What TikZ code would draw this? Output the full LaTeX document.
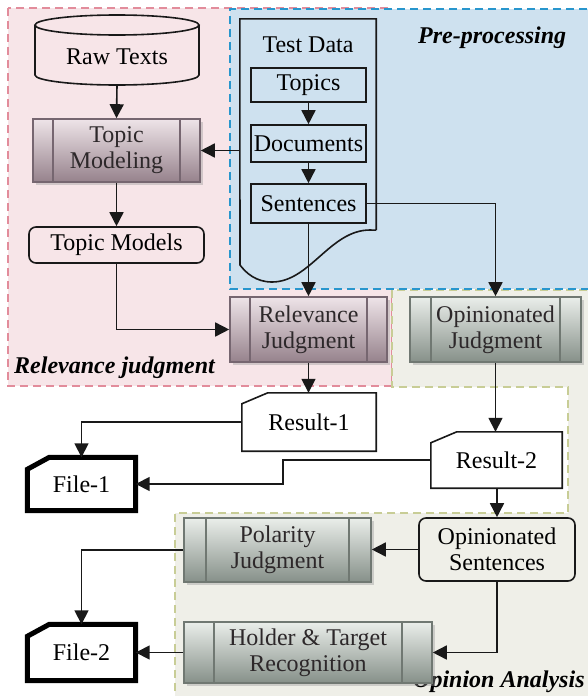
\documentclass[tikz,border=0pt]{standalone}
\usepackage{fontspec}
\setmainfont{Liberation Serif}
\newfontfamily\tnr{Liberation Serif}
\usetikzlibrary{arrows.meta,shadows,calc}
\definecolor{pinkbg}{RGB}{247,229,232}
\definecolor{pinkdash}{RGB}{226,140,155}
\definecolor{bluebg}{RGB}{206,225,239}
\definecolor{bluedash}{RGB}{40,150,205}
\definecolor{greenbg}{RGB}{239,239,232}
\definecolor{greendash}{RGB}{200,205,150}
\definecolor{linec}{RGB}{25,25,25}
\definecolor{proctext}{RGB}{45,40,42}
\definecolor{mauveline}{RGB}{118,102,112}
\definecolor{mauvetop}{RGB}{238,228,232}
\definecolor{mauvebot}{RGB}{150,130,140}
\definecolor{greyline}{RGB}{112,120,114}
\definecolor{greytop}{RGB}{234,238,234}
\definecolor{greybot}{RGB}{134,144,137}
\def\sideoff{20pt}
\newcommand\mydocshape[4]{%
  \draw[#4] ($(#1.north west)+(0,#3)$) -- ($(#1.north west)+(#2,0)$) -- (#1.north east) -- (#1.south east) -- (#1.south west) -- cycle;}
\tikzset{
  sideoff/.code={\def\sideoff{#1}},
  procbase/.style={rectangle, line width=1.6pt, align=center, inner sep=0pt, text=proctext,
    drop shadow={shadow xshift=3pt, shadow yshift=-3pt, fill=black!40, opacity=0.4}},
  procpink/.style={procbase, draw=mauveline, top color=mauvetop, bottom color=mauvebot,
    path picture={\draw[mauveline,line width=1.6pt]
      ([xshift=\sideoff]path picture bounding box.north west) -- ([xshift=\sideoff]path picture bounding box.south west)
      ([xshift=-\sideoff]path picture bounding box.north east) -- ([xshift=-\sideoff]path picture bounding box.south east);}},
  procgreen/.style={procbase, draw=greyline, top color=greytop, bottom color=greybot,
    path picture={\draw[greyline,line width=1.6pt]
      ([xshift=\sideoff]path picture bounding box.north west) -- ([xshift=\sideoff]path picture bounding box.south west)
      ([xshift=-\sideoff]path picture bounding box.north east) -- ([xshift=-\sideoff]path picture bounding box.south east);}},
  smallbox/.style={rectangle, draw=linec, line width=1.6pt, minimum width=115pt, inner sep=0pt},
  roundbox/.style={rectangle, rounded corners=7pt, draw=linec, line width=1.6pt, align=center, inner sep=0pt},
  docnode/.style={rectangle, inner sep=0pt},
  conn/.style={line width=1.6pt, draw=linec, -{Triangle[length=14pt,width=14pt]}},
  plainline/.style={line width=1.6pt, draw=linec},
  lab/.style={font=\tnr\fontsize{24}{26}\selectfont\bfseries\itshape, inner sep=0pt},
  regdash/.style={line width=1.5pt, dash pattern=on 8pt off 5pt}
}
\begin{document}
\begin{tikzpicture}[x=1pt,y=-1pt,font=\tnr\fontsize{24}{26}\selectfont]
\useasboundingbox (0,0) rectangle (588,696);
% regions
\fill[pinkbg] (8,8) rectangle (392,386);
\draw[regdash,pinkdash] (8,8) rectangle (392,386);
\fill[greenbg] (392,290) -- (600,290) -- (600,700) -- (175,700) -- (175,513) -- (568,513) -- (568,387) -- (392,387) -- cycle;
\draw[regdash,greendash] (600,290) -- (392,290) -- (392,387) -- (568,387) -- (568,513) -- (175,513) -- (175,700);
\fill[bluebg] (230,9) rectangle (600,289);
\draw[regdash,bluedash] (600,9) -- (230,9) -- (230,289) -- (600,289);
% labels
\node[lab, anchor=base west] (pp) at (418,43) {Pre-processing};
\node[lab, anchor=base west] (rl) at (14,373) {Relevance judgment};
\node[lab, anchor=base west] (ol) at (413,687) {Opinion Analysis};
% raw texts cylinder
\node[docnode, minimum width=164pt, minimum height=56pt] (raw) at (117,57) {Raw Texts};
\draw[plainline] (35,25) -- (35,75) arc[start angle=180,end angle=0,x radius=82,y radius=10] -- (199,25);
\draw[plainline] (117,25) ellipse[x radius=82,y radius=10];
% left column
\node[procpink, minimum width=167pt, minimum height=63pt] (tm) at (116.5,150.5) {Topic\\Modeling};
\node[roundbox, minimum width=175pt, minimum height=36pt] (tmodels) at (116.5,245) {Topic Models};
% test data
\node[docnode, minimum width=136pt, minimum height=211pt] (td) at (308,124.5) {};
\draw[plainline] (td.south east) -- (td.north east) -- (td.north west) -- (240,265)
  .. controls (246,273) and (256,282) .. (272,282)
  .. controls (310,282) and (330,230) .. (370,230) -- (td.south east);
\node[inner sep=0pt] (tdt) at (308,45) {Test Data};
\node[smallbox, minimum height=34pt] (topics) at (308.5,85) {Topics};
\node[smallbox, minimum height=37pt] (docs) at (308.5,143.5) {Documents};
\node[smallbox, minimum height=39pt] (sents) at (308.5,203.5) {Sentences};
% judgments
\node[procpink, minimum width=157pt, minimum height=65pt] (rj) at (308.5,329.5) {Relevance\\Judgment};
\node[procgreen, sideoff=21pt, minimum width=171pt, minimum height=65pt] (oj) at (495.5,329.5) {Opinionated\\Judgment};
% results
\node[docnode, minimum width=134pt, minimum height=58pt] (r1) at (309,422) {};
\mydocshape{r1}{26}{11}{plainline,fill=white}
\node at (r1) {Result-1};
\node[docnode, minimum width=131pt, minimum height=56pt] (r2) at (496.5,460) {};
\mydocshape{r2}{26}{11}{plainline,fill=white}
\node at (r2) {Result-2};
% files
\node[docnode, minimum width=108pt, minimum height=53pt] (f1) at (81.5,484) {};
\mydocshape{f1}{22}{12}{line width=5pt,draw=black,fill=white}
\node at (f1) {File-1};
\node[docnode, minimum width=108pt, minimum height=56pt] (f2) at (81.5,652.5) {};
\mydocshape{f2}{22}{12}{line width=5pt,draw=black,fill=white}
\node at (f2) {File-2};
% opinion analysis
\node[roundbox, minimum width=156pt, minimum height=63pt] (os) at (497,549.5) {Opinionated\\Sentences};
\node[procgreen, sideoff=22pt, minimum width=187pt, minimum height=64pt] (pol) at (277.5,550) {Polarity\\Judgment};
\node[procgreen, sideoff=30pt, minimum width=248pt, minimum height=61pt] (hold) at (308,652.5) {Holder \& Target\\Recognition};
% connectors
\draw[conn] (raw.south) -- (tm.north);
\draw[conn] (tm.south) -- (tmodels.north);
\draw[conn] (tm.east -| td.west) -- (tm.east);
\draw[conn] (topics.south) -- (docs.north);
\draw[conn] (docs.south) -- (sents.north);
\draw[conn] (sents.south) -- (rj.north);
\draw[conn] (sents.east) -| (oj.north);
\draw[conn] (tmodels.south) |- (rj.west);
\draw[conn] (rj.south) -- (rj.south |- r1.north);
\draw[conn] (oj.south) -- (oj.south |- r2.north);
\draw[conn] (r1.west) -| (f1.north);
\draw[conn] (r2.west) -- ++(-148,0) |- (f1.east);
\draw[conn] (r2.south -| os.north) -- (os.north);
\draw[conn] (os.west) -- (os.west -| pol.east);
\draw[conn] (pol.west) -| (f2.north);
\draw[conn] (os.south) |- (hold.east);
\draw[conn] (hold.west) -- (f2.east);
\end{tikzpicture}
\end{document}
